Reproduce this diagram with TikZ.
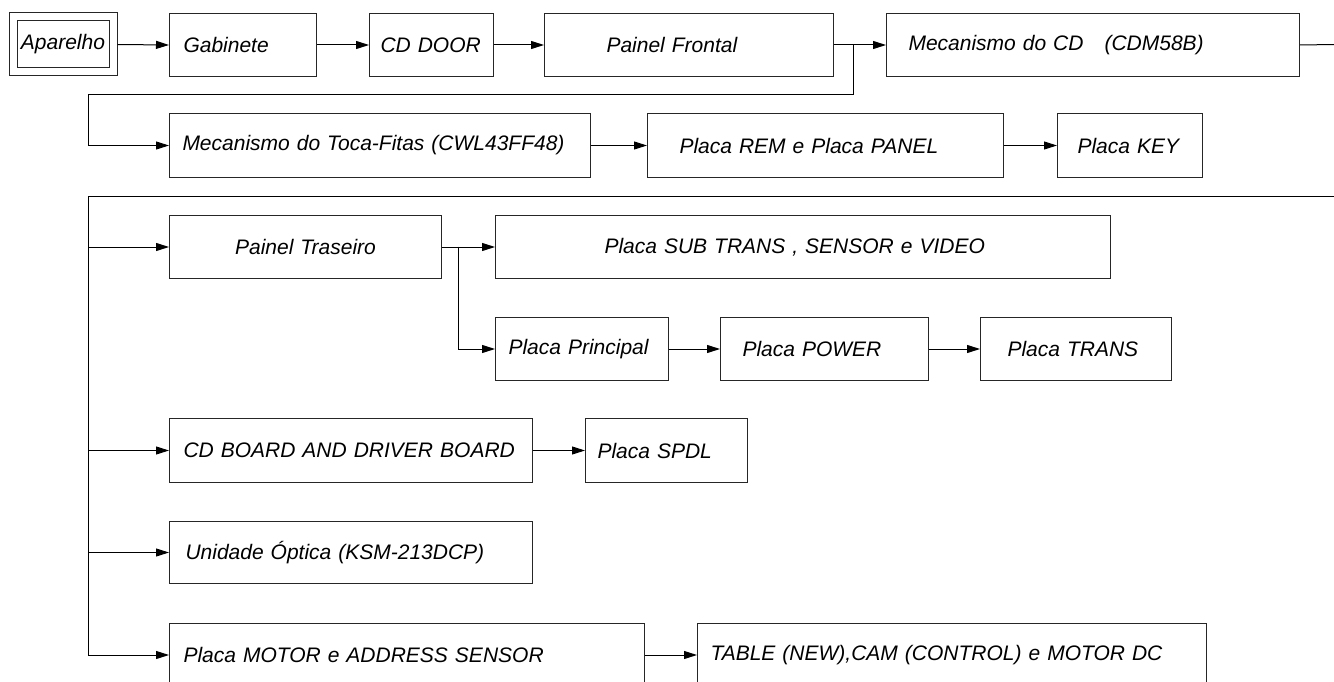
\documentclass[tikz,border=0pt]{standalone}
\usepackage{fontspec}
\setmainfont{Liberation Sans}
\usetikzlibrary{arrows.meta}
\begin{document}
\begin{tikzpicture}[x=1pt,y=-1pt,
  box/.style={draw=black!85, line width=1pt, rectangle, anchor=north west,
    inner ysep=0pt, align=left, font=\fontsize{21}{25}\selectfont\itshape},
  cbox/.style={box, align=center},
  conn/.style={line width=1pt, draw=black, -{Triangle[length=13pt,width=8pt]}},
  wire/.style={line width=1pt, draw=black}]
\useasboundingbox (0,0) rectangle (1334,682);

% row 1
\node[draw=black!85, line width=1pt, double, double distance=7pt, outer sep=4.5pt,
  minimum width=100pt, minimum height=55pt, inner sep=0pt,
  font=\fontsize{21}{25}\selectfont\itshape] (apar) at (63,44.5) {Aparelho};
\node[box, minimum height=63pt, minimum width=147pt, inner xsep=14pt, text width=119pt] (gab) at (169,13) {\mbox{Gabinete}};
\node[box, minimum height=63pt, minimum width=124pt, inner xsep=11pt, text width=102pt] (door) at (369,13) {\mbox{CD DOOR}};
\node[box, minimum height=63pt, minimum width=289pt, inner xsep=62pt, text width=165pt] (pfront) at (544,13) {\mbox{Painel Frontal}};
\node[box, minimum height=63pt, minimum width=413pt, inner xsep=22pt, text width=369pt] (mcd) at (886,13) {\mbox{Mecanismo do CD\ \ \ (CDM58B)}};

% row 2
\node[box, minimum height=64pt, minimum width=421pt, inner xsep=13pt, text width=395pt] (toca) at (169,113) {\mbox{Mecanismo do Toca-Fitas (CWL43FF48)}};
\node[box, minimum height=64pt, minimum width=356pt, inner xsep=32pt, text width=292pt] (rem) at (647,113) {\mbox{Placa REM e Placa PANEL}};
\node[box, minimum height=64pt, minimum width=145pt, inner xsep=20pt, text width=105pt] (key) at (1057,113) {\mbox{Placa KEY}};

% row 3
\node[cbox, minimum height=63pt, minimum width=272pt, inner xsep=10pt, text width=252pt] (ptras) at (169,215) {\mbox{Painel Traseiro}};
\node[box, minimum height=63pt, minimum width=615pt, inner xsep=109pt, text width=397pt] (sub) at (495,215) {\mbox{Placa SUB TRANS , SENSOR e VIDEO}};

% row 4
\node[box, minimum height=63pt, minimum width=173pt, inner xsep=13pt, text width=147pt] (princ) at (495,317) {\mbox{Placa Principal}};
\node[box, minimum height=63pt, minimum width=208pt, inner xsep=22pt, text width=164pt] (power) at (720,317) {\mbox{Placa POWER}};
\node[box, minimum height=63pt, minimum width=191pt, inner xsep=27pt, text width=137pt] (trans) at (980,317) {\mbox{Placa TRANS}};

% row 5
\node[box, minimum height=64pt, minimum width=363pt, inner xsep=14pt, text width=335pt] (cdb) at (169,418) {\mbox{CD BOARD AND DRIVER BOARD}};
\node[box, minimum height=64pt, minimum width=162pt, inner xsep=12pt, text width=138pt] (spdl) at (585,418) {\mbox{Placa SPDL}};

% row 6
\node[box, minimum height=62pt, minimum width=363pt, inner xsep=16pt, text width=331pt] (unid) at (169,521) {\mbox{Unidade Óptica (KSM-213DCP)}};

% row 7
\node[box, minimum height=63pt, minimum width=475pt, inner xsep=14pt, text width=447pt] (motor) at (169,623) {\mbox{Placa MOTOR e ADDRESS SENSOR}};
\node[box, minimum height=63pt, minimum width=509pt, inner xsep=13pt, text width=483pt] (table) at (697,623) {\mbox{TABLE (NEW),CAM (CONTROL) e MOTOR DC}};

% connectors row 1
\draw[conn] (apar.east) -- (gab.west);
\draw[conn] (gab.east) -- (door.west);
\draw[conn] (door.east) -- (pfront.west);
\draw[conn] (pfront.east) -- (mcd.west);
\coordinate (e1) at (1334,44.5);
\draw[wire] (mcd.east) -- (e1);

% branch to row 2
\coordinate (b1) at (853,44.5);
\coordinate (b2) at (853,95);
\coordinate (b3) at (88,95);
\draw[wire] (b1) -- (b2) -- (b3);
\draw[conn] (b3) |- (toca.west);
\draw[conn] (toca.east) -- (rem.west);
\draw[conn] (rem.east) -- (key.west);

% trunk
\coordinate (t0) at (88,197);
\coordinate (t1) at (1334,197);
\draw[wire] (t1) -- (t0) -- (t0 |- motor.west);
\draw[conn] (t0 |- ptras.west) -- (ptras.west);
\draw[conn] (t0 |- cdb.west) -- (cdb.west);
\draw[conn] (t0 |- unid.west) -- (unid.west);
\draw[conn] (t0 |- motor.west) -- (motor.west);

% row 3/4
\draw[conn] (ptras.east) -- (sub.west);
\coordinate (b4) at (458,246.5);
\draw[conn] (b4) |- (princ.west);
\draw[conn] (princ.east) -- (power.west);
\draw[conn] (power.east) -- (trans.west);

% row 5, 7
\draw[conn] (cdb.east) -- (spdl.west);
\draw[conn] (motor.east) -- (table.west);
\end{tikzpicture}
\end{document}
